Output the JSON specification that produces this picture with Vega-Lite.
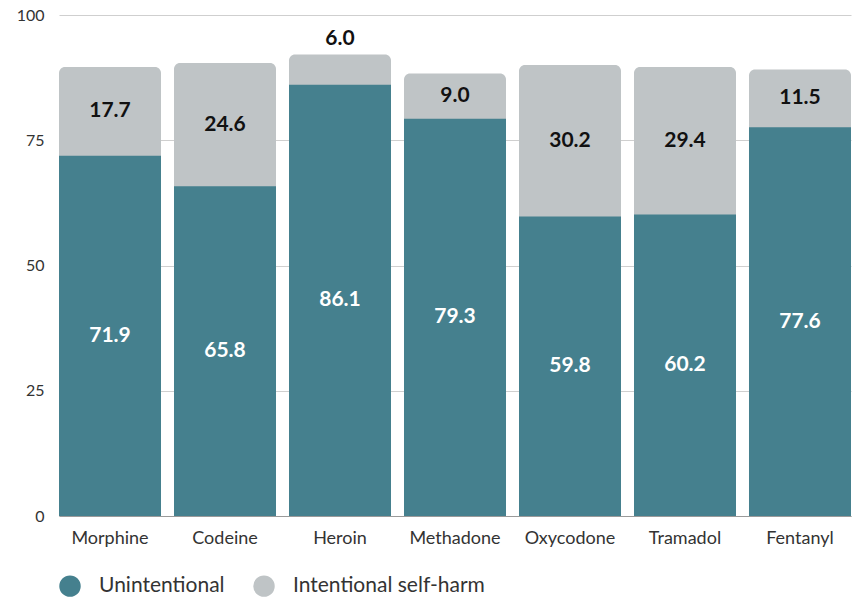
{
  "$schema": "https://vega.github.io/schema/vega-lite/v6.json",
  "width": 792,
  "height": 501,
  "autosize": {"type": "none"},
  "padding": {"left": 59, "top": 15, "right": 5, "bottom": 85},
  "background": "white",
  "config": {
    "font": "Lato",
    "view": {"stroke": null}
  },
  "data": {
    "values": [
      {"drug": "Morphine", "type": "Unintentional", "order": 1, "value": 71.9},
      {"drug": "Morphine", "type": "Intentional self-harm", "order": 2, "value": 17.7},
      {"drug": "Codeine", "type": "Unintentional", "order": 1, "value": 65.8},
      {"drug": "Codeine", "type": "Intentional self-harm", "order": 2, "value": 24.6},
      {"drug": "Heroin", "type": "Unintentional", "order": 1, "value": 86.1},
      {"drug": "Heroin", "type": "Intentional self-harm", "order": 2, "value": 6.0},
      {"drug": "Methadone", "type": "Unintentional", "order": 1, "value": 79.3},
      {"drug": "Methadone", "type": "Intentional self-harm", "order": 2, "value": 9.0},
      {"drug": "Oxycodone", "type": "Unintentional", "order": 1, "value": 59.8},
      {"drug": "Oxycodone", "type": "Intentional self-harm", "order": 2, "value": 30.2},
      {"drug": "Tramadol", "type": "Unintentional", "order": 1, "value": 60.2},
      {"drug": "Tramadol", "type": "Intentional self-harm", "order": 2, "value": 29.4},
      {"drug": "Fentanyl", "type": "Unintentional", "order": 1, "value": 77.6},
      {"drug": "Fentanyl", "type": "Intentional self-harm", "order": 2, "value": 11.5}
    ]
  },
  "transform": [
    {"stack": "value", "groupby": ["drug"], "sort": [{"field": "order", "order": "ascending"}], "as": ["y0", "y1"]},
    {"calculate": "(datum.y0 + datum.y1) / 2", "as": "mid"}
  ],
  "encoding": {
    "x": {
      "field": "drug",
      "type": "nominal",
      "sort": ["Morphine", "Codeine", "Heroin", "Methadone", "Oxycodone", "Tramadol", "Fentanyl"],
      "scale": {"paddingInner": 0.113, "paddingOuter": 0},
      "axis": {
        "title": null,
        "labelAngle": 0,
        "labelFontSize": 18,
        "labelColor": "#333333",
        "labelPadding": 13,
        "ticks": false,
        "domainColor": "#9a9a9a",
        "domainWidth": 1
      }
    }
  },
  "layer": [
    {
      "transform": [{"filter": "datum.order == 2"}],
      "mark": {"type": "bar", "cornerRadiusTopLeft": 6, "cornerRadiusTopRight": 6},
      "encoding": {
        "y": {
          "field": "y1",
          "type": "quantitative",
          "scale": {"domain": [0, 100]},
          "axis": {
            "title": null,
            "values": [0, 25, 50, 75, 100],
            "labelFontSize": 16,
            "labelColor": "#333333",
            "labelPadding": 15,
            "ticks": false,
            "domain": false,
            "gridColor": "#cfcfcf",
            "gridWidth": 1
          }
        },
        "y2": {"datum": 0},
        "color": {
          "field": "type",
          "type": "nominal",
          "scale": {"domain": ["Unintentional", "Intentional self-harm"], "range": ["#45808e", "#bfc4c6"]},
          "legend": {
            "title": null,
            "orient": "bottom",
            "direction": "horizontal",
            "symbolType": "circle",
            "symbolSize": 460,
            "symbolStrokeWidth": 0,
            "labelFontSize": 21,
            "labelColor": "#333333",
            "labelOffset": 18,
            "labelLimit": 400,
            "columnPadding": 28,
            "offset": 28
          }
        }
      }
    },
    {
      "transform": [{"filter": "datum.order == 1"}],
      "mark": {"type": "bar"},
      "encoding": {
        "y": {"field": "y1", "type": "quantitative"},
        "y2": {"datum": 0},
        "color": {"field": "type", "type": "nominal"}
      }
    },
    {
      "transform": [{"filter": "datum.order == 1"}],
      "mark": {"type": "text", "color": "white", "fontSize": 21, "fontWeight": "bold", "baseline": "middle"},
      "encoding": {
        "y": {"field": "mid", "type": "quantitative"},
        "text": {"field": "value", "type": "quantitative", "format": ".1f"}
      }
    },
    {
      "transform": [{"filter": "datum.order == 2 && datum.value >= 8"}],
      "mark": {"type": "text", "color": "#111111", "fontSize": 21, "fontWeight": "bold", "baseline": "middle"},
      "encoding": {
        "y": {"field": "mid", "type": "quantitative"},
        "text": {"field": "value", "type": "quantitative", "format": ".1f"}
      }
    },
    {
      "transform": [{"filter": "datum.order == 2 && datum.value < 8"}],
      "mark": {"type": "text", "color": "#111111", "fontSize": 21, "fontWeight": "bold", "baseline": "bottom", "dy": -6},
      "encoding": {
        "y": {"field": "y1", "type": "quantitative"},
        "text": {"field": "value", "type": "quantitative", "format": ".1f"}
      }
    }
  ]
}
